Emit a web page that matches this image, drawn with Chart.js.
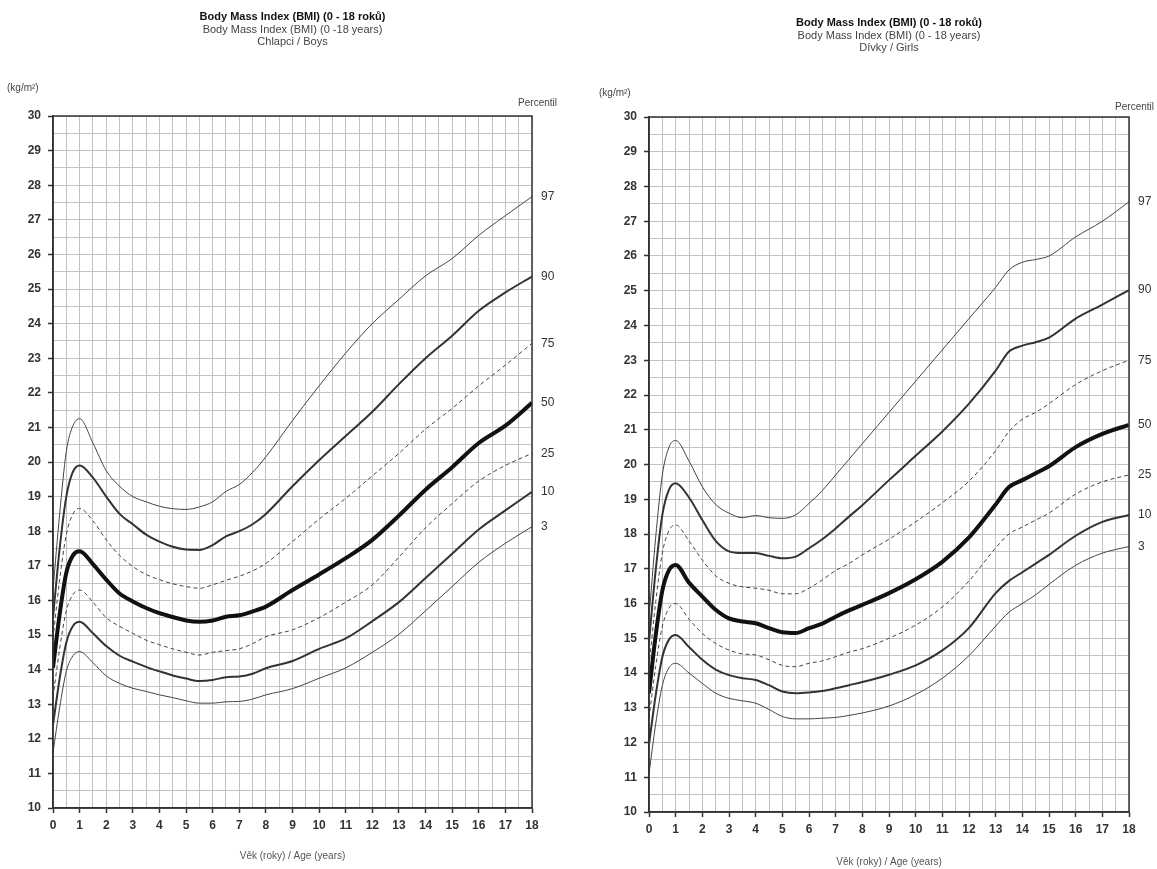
<!DOCTYPE html>
<html>
<head>
<meta charset="utf-8">
<script src="https://cdn.jsdelivr.net/npm/chart.js@4.4.0/dist/chart.umd.min.js"></script>
<style>
  html, body { margin: 0; padding: 0; background: #fff; }
  #wrap { position: relative; width: 1157px; height: 869px; }
  #boys { position: absolute; left: 0; top: 0; }
  #girls { position: absolute; left: 580px; top: 0; }
</style>
</head>
<body>
<div id="wrap">
  <canvas id="boys" width="580" height="869"></canvas>
  <canvas id="girls" width="577" height="869"></canvas>
</div>
<script>
// vek v letech
const boysAges = [0, 0.25, 0.5, 0.75, 1, 1.5, 2, 2.5, 3, 3.5, 4, 4.5, 5, 5.5, 6, 6.5, 7, 7.5, 8, 9, 10, 11, 12, 13, 14, 15, 16, 17, 18];
const girlsAges = [0, 0.25, 0.5, 0.75, 1, 1.5, 2, 2.5, 3, 3.5, 4, 4.5, 5, 5.5, 6, 6.5, 7, 7.5, 8, 9, 10, 11, 12, 13, 13.5, 14, 14.5, 15, 16, 17, 18];
const percentiles = ['97', '90', '75', '50', '25', '10', '3'];

// chlapci
const boys97 = [16.3, 18.5, 20.3, 21.05, 21.25, 20.55, 19.75, 19.3, 19.0, 18.85, 18.72, 18.65, 18.63, 18.7, 18.85, 19.15, 19.35, 19.7, 20.15, 21.2, 22.2, 23.15, 24.0, 24.7, 25.38, 25.88, 26.55, 27.12, 27.67];
const boys90 = [15.5, 17.5, 19.0, 19.72, 19.9, 19.55, 19.0, 18.5, 18.2, 17.9, 17.7, 17.55, 17.47, 17.46, 17.6, 17.85, 18.0, 18.2, 18.5, 19.3, 20.05, 20.75, 21.45, 22.25, 23.0, 23.65, 24.37, 24.9, 25.36];
const boys75 = [14.9, 16.6, 17.9, 18.5, 18.66, 18.3, 17.75, 17.3, 16.98, 16.75, 16.6, 16.48, 16.4, 16.35, 16.45, 16.58, 16.7, 16.85, 17.07, 17.7, 18.35, 18.95, 19.6, 20.25, 20.95, 21.55, 22.2, 22.8, 23.43];
const boys50 = [14.05, 15.6, 16.8, 17.3, 17.42, 17.05, 16.6, 16.2, 15.97, 15.78, 15.63, 15.52, 15.42, 15.38, 15.42, 15.53, 15.57, 15.68, 15.82, 16.3, 16.75, 17.22, 17.75, 18.45, 19.2, 19.85, 20.55, 21.05, 21.71];
const boys25 = [13.2, 14.6, 15.7, 16.17, 16.3, 15.95, 15.5, 15.25, 15.05, 14.85, 14.72, 14.6, 14.5, 14.42, 14.5, 14.55, 14.6, 14.75, 14.95, 15.15, 15.5, 15.95, 16.45, 17.25, 18.1, 18.8, 19.45, 19.9, 20.25];
const boys10 = [12.4, 13.74, 14.78, 15.26, 15.38, 15.05, 14.68, 14.4, 14.23, 14.08, 13.95, 13.83, 13.74, 13.67, 13.7, 13.78, 13.8, 13.88, 14.04, 14.25, 14.6, 14.9, 15.4, 15.95, 16.65, 17.35, 18.05, 18.6, 19.14];
const boys3 = [11.6, 12.9, 13.95, 14.4, 14.52, 14.2, 13.82, 13.6, 13.46, 13.37, 13.27, 13.19, 13.1, 13.03, 13.03, 13.07, 13.08, 13.15, 13.27, 13.45, 13.75, 14.05, 14.5, 15.02, 15.7, 16.4, 17.1, 17.65, 18.13];

// divky
const girls97 = [15.6, 17.9, 19.7, 20.5, 20.69, 20.1, 19.36, 18.85, 18.6, 18.47, 18.53, 18.47, 18.45, 18.55, 18.88, 19.25, 19.7, 20.15, 20.6, 21.5, 22.4, 23.3, 24.2, 25.1, 25.6, 25.82, 25.9, 26.0, 26.55, 27.0, 27.56];
const girls90 = [14.9, 16.95, 18.55, 19.28, 19.46, 19.05, 18.4, 17.8, 17.5, 17.45, 17.45, 17.37, 17.3, 17.35, 17.59, 17.85, 18.16, 18.5, 18.83, 19.55, 20.25, 20.95, 21.75, 22.7, 23.25, 23.42, 23.52, 23.65, 24.2, 24.6, 25.02];
const girls75 = [14.2, 16.03, 17.45, 18.1, 18.26, 17.8, 17.25, 16.8, 16.58, 16.48, 16.44, 16.38, 16.28, 16.28, 16.44, 16.68, 16.95, 17.15, 17.4, 17.85, 18.35, 18.9, 19.52, 20.4, 20.95, 21.3, 21.5, 21.75, 22.3, 22.7, 23.0];
const girls50 = [13.42, 15.08, 16.37, 16.96, 17.11, 16.6, 16.2, 15.82, 15.57, 15.48, 15.43, 15.29, 15.17, 15.15, 15.29, 15.42, 15.62, 15.8, 15.96, 16.3, 16.7, 17.2, 17.9, 18.85, 19.35, 19.55, 19.75, 19.95, 20.5, 20.88, 21.14];
const girls25 = [12.7, 14.19, 15.34, 15.87, 16.0, 15.55, 15.14, 14.85, 14.66, 14.55, 14.52, 14.38, 14.22, 14.18, 14.28, 14.35, 14.47, 14.6, 14.7, 15.0, 15.38, 15.9, 16.65, 17.6, 18.0, 18.2, 18.4, 18.6, 19.15, 19.5, 19.7];
const girls10 = [11.95, 13.36, 14.46, 14.96, 15.09, 14.75, 14.38, 14.1, 13.94, 13.85, 13.8, 13.65, 13.47, 13.42, 13.44, 13.48, 13.56, 13.65, 13.74, 13.95, 14.22, 14.65, 15.3, 16.3, 16.65, 16.9, 17.15, 17.4, 17.95, 18.35, 18.55];
const girls3 = [11.1, 12.53, 13.64, 14.15, 14.28, 14.0, 13.7, 13.42, 13.27, 13.2, 13.13, 12.95, 12.75, 12.68, 12.68, 12.7, 12.72, 12.78, 12.85, 13.05, 13.38, 13.85, 14.5, 15.35, 15.75, 16.0, 16.25, 16.55, 17.1, 17.45, 17.64];

const FONT = "'Liberation Sans', Arial, Helvetica, sans-serif";

// styl car podle percentilu
const lineStyles = [
  { w: 1, c: '#444', dash: [] },     // 97
  { w: 2, c: '#333', dash: [] },     // 90
  { w: 1, c: '#444', dash: [4, 3] }, // 75
  { w: 4, c: '#111', dash: [] },     // 50
  { w: 1, c: '#444', dash: [4, 3] }, // 25
  { w: 2, c: '#333', dash: [] },     // 10
  { w: 1, c: '#444', dash: [] }      // 3
];

// texty kolem grafu (titulky, jednotky, popisky percentilu)
const textPlugin = {
  id: 'bmiTexts',
  afterDraw(chart, args, opts) {
    const ctx = chart.ctx;
    const ca = chart.chartArea;
    ctx.save();
    // ramecek
    ctx.strokeStyle = '#333';
    ctx.lineWidth = 1.5;
    ctx.strokeRect(ca.left, ca.top, ca.right - ca.left, ca.bottom - ca.top);

    const cx = (ca.left + ca.right) / 2;
    ctx.textAlign = 'center';
    ctx.textBaseline = 'middle';
    ctx.fillStyle = '#111';
    ctx.font = 'bold 11px ' + FONT;
    ctx.fillText(opts.lines[0], cx, opts.titleY);
    ctx.fillStyle = '#444';
    ctx.font = '11px ' + FONT;
    ctx.fillText(opts.lines[1], cx, opts.titleY + 12.5);
    ctx.fillText(opts.lines[2], cx, opts.titleY + 25);

    ctx.font = '10px ' + FONT;
    ctx.fillStyle = '#444';
    ctx.textAlign = 'left';
    ctx.fillText('(kg/m²)', ca.left + opts.unitDx, opts.unitY);
    ctx.textAlign = 'right';
    ctx.fillText('Percentil', ca.right + opts.percDx, ca.top - opts.percDy);

    // popisky na konci krivek
    ctx.font = '12px ' + FONT;
    ctx.fillStyle = '#333';
    ctx.textAlign = 'left';
    chart.data.datasets.forEach((ds, i) => {
      const meta = chart.getDatasetMeta(i);
      const last = meta.data[meta.data.length - 1];
      ctx.fillText(ds.label, ca.right + 9, last.y);
    });
    ctx.restore();
  }
};

function makeChart(id, ages, series, pad, texts) {
  const datasets = series.map((vals, i) => ({
    label: percentiles[i],
    data: ages.map((a, j) => ({ x: a, y: vals[j] })),
    borderColor: lineStyles[i].c,
    borderWidth: lineStyles[i].w,
    borderDash: lineStyles[i].dash,
    pointRadius: 0,
    fill: false,
    cubicInterpolationMode: 'monotone'
  }));

  const intOnly = v => Number.isInteger(v) ? String(v) : '';
  const tickCol = c => Number.isInteger(c.tick.value) ? '#333' : 'rgba(0,0,0,0)';

  return new Chart(document.getElementById(id), {
    type: 'line',
    data: { datasets: datasets },
    plugins: [textPlugin],
    options: {
      responsive: false,
      animation: false,
      layout: { padding: pad },
      plugins: {
        legend: { display: false },
        tooltip: { enabled: false },
        bmiTexts: texts
      },
      scales: {
        x: {
          type: 'linear',
          min: 0, max: 18,
          afterFit: s => { s.height = pad.xh; },
          grid: { color: '#c2c2c2', lineWidth: 1, tickLength: 5, tickColor: tickCol, tickWidth: 1.5 },
          border: { color: '#333', width: 1.5 },
          ticks: {
            stepSize: 0.5, autoSkip: false, maxRotation: 0, padding: 5,
            callback: intOnly,
            color: '#333', font: { family: FONT, size: 12, weight: 'bold' }
          },
          title: {
            display: true, text: 'Věk (roky) / Age (years)',
            color: '#555', font: { family: FONT, size: 10 },
            padding: { top: 4, bottom: pad.tb }
          }
        },
        y: {
          min: 10, max: 30,
          afterFit: s => { s.width = 40; },
          grid: { color: '#c2c2c2', lineWidth: 1, tickLength: 5, tickColor: tickCol, tickWidth: 1.5 },
          border: { color: '#333', width: 1.5 },
          ticks: {
            stepSize: 0.5, autoSkip: false, padding: 7,
            callback: intOnly,
            color: '#333', font: { family: FONT, size: 12, weight: 'bold' }
          }
        }
      }
    }
  });
}

makeChart('boys', boysAges, [boys97, boys90, boys75, boys50, boys25, boys10, boys3],
  { left: 13, right: 48, top: 116, bottom: 3, xh: 58, tb: 4 },
  {
    lines: ['Body Mass Index (BMI) (0 - 18 roků)', 'Body Mass Index (BMI) (0 -18 years)', 'Chlapci / Boys'],
    titleY: 17, unitDx: -46, unitY: 88, percDx: 25, percDy: 13
  });

makeChart('girls', girlsAges, [girls97, girls90, girls75, girls50, girls25, girls10, girls3],
  { left: 29, right: 28, top: 117, bottom: 1, xh: 56, tb: 0 },
  {
    lines: ['Body Mass Index (BMI) (0 - 18 roků)', 'Body Mass Index (BMI) (0 - 18 years)', 'Dívky / Girls'],
    titleY: 23, unitDx: -50, unitY: 93, percDx: 25, percDy: 10
  });
</script>
</body>
</html>
